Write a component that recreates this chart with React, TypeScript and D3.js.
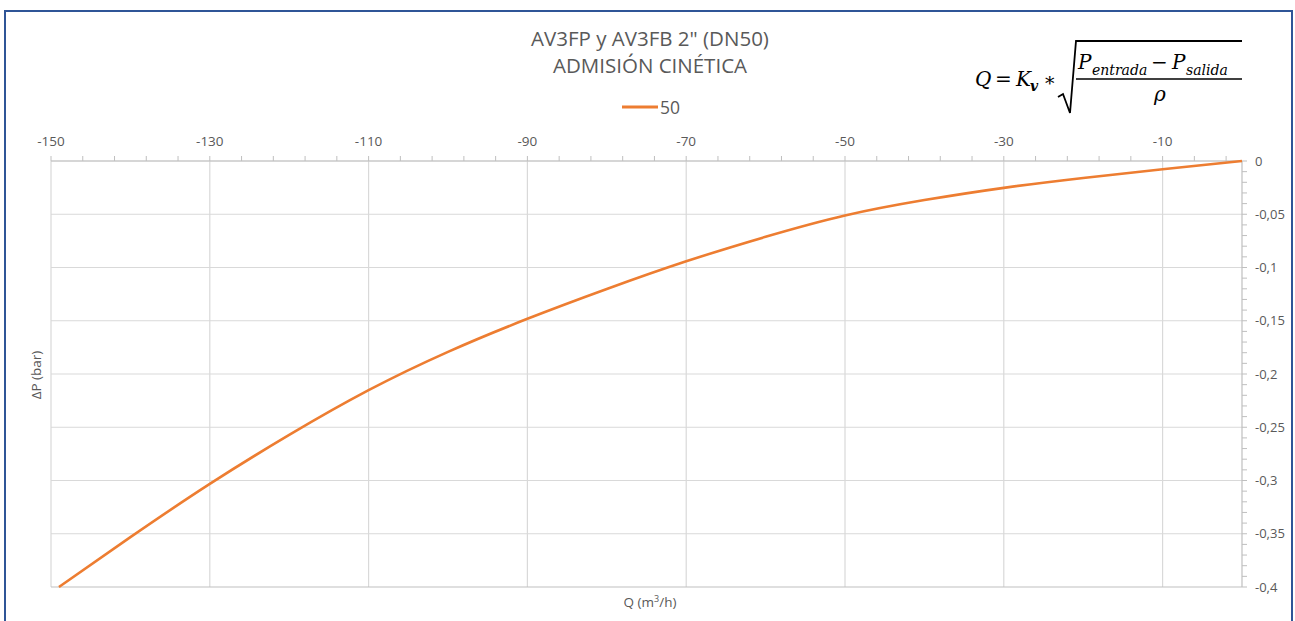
import * as d3 from "d3";

// Curve: Q (m3/h) vs pressure loss (bar)
const flowQ = [-149, -140, -130, -120, -110, -100, -90, -80, -70, -60, -50, -40, -30, -20, -10, 0];
const deltaP = [-0.4, -0.3532, -0.3032, -0.2572, -0.2152, -0.1792, -0.1482, -0.1202, -0.0942, -0.0712, -0.0512, -0.0367, -0.0252, -0.0159, -0.0077, 0];

const xTicks = [-150, -130, -110, -90, -70, -50, -30, -10];
const yTicks = [0, -0.05, -0.1, -0.15, -0.2, -0.25, -0.3, -0.35, -0.4];
const yTickLabels = ["0", "-0,05", "-0,1", "-0,15", "-0,2", "-0,25", "-0,3", "-0,35", "-0,4"];

const titleLines = ['AV3FP y AV3FB 2" (DN50)', "ADMISIÓN CINÉTICA"];
const seriesName = "50";

const W = 1295;
const H = 621;
const plot = { left: 51, right: 1242, top: 161, bottom: 587 };
const FONT = "'Open Sans', 'Noto Sans', sans-serif";
const TXT = "#595959";
const GRID = "#d9d9d9";
const AXIS = "#bfbfbf";
const ORANGE = "#ED7D31";

export default function App() {
  const x = d3.scaleLinear().domain([-150, 0]).range([plot.left, plot.right]);
  const y = d3.scaleLinear().domain([-0.4, 0]).range([plot.bottom, plot.top]);

  const pts = flowQ.map((q, i) => [q, deltaP[i]] as [number, number]);
  const line = d3
    .line<[number, number]>()
    .x((d) => x(d[0]))
    .y((d) => y(d[1]))
    .curve(d3.curveNatural);

  const minorX = d3.range(-150, 0.001, 4);
  const minorY = d3.range(0, 40.5, 1).map((k) => -k / 100);

  const fx = 975; // formula anchor
  return (
    <svg
      width={W}
      height={H}
      style={{ position: "absolute", left: 0, top: 0, background: "#fff" }}
    >
      <rect x={5} y={11} width={1287} height={625} fill="#fff" stroke="#2F5597" strokeWidth={2} />

      {/* gridlines */}
      {xTicks.map((t) => (
        <line key={"gx" + t} x1={x(t)} x2={x(t)} y1={plot.top} y2={plot.bottom} stroke={GRID} strokeWidth={1.2} />
      ))}
      {yTicks.map((t) => (
        <line key={"gy" + t} x1={plot.left} x2={plot.right} y1={y(t)} y2={y(t)} stroke={t === -0.4 ? AXIS : GRID} strokeWidth={1.2} />
      ))}

      {/* top axis */}
      <line x1={plot.left} x2={plot.right} y1={plot.top} y2={plot.top} stroke={AXIS} strokeWidth={1.2} />
      {minorX.map((t) => (
        <line key={"mx" + t} x1={x(t)} x2={x(t)} y1={plot.top} y2={plot.top - 5} stroke={AXIS} strokeWidth={1} />
      ))}
      {xTicks.map((t) => (
        <text key={"tx" + t} x={x(t)} y={146} textAnchor="middle" fontFamily={FONT} fontSize={13.5} fill={TXT}>
          {t}
        </text>
      ))}

      {/* right axis */}
      <line x1={plot.right} x2={plot.right} y1={plot.top} y2={plot.bottom} stroke={AXIS} strokeWidth={1.2} />
      {minorY.map((t) => (
        <line key={"my" + t} x1={plot.right} x2={plot.right + 5} y1={y(t)} y2={y(t)} stroke={AXIS} strokeWidth={1} />
      ))}
      {yTicks.map((t, i) => (
        <text key={"ty" + t} x={1255} y={y(t) + 4.5} fontFamily={FONT} fontSize={13} fill={TXT}>
          {yTickLabels[i]}
        </text>
      ))}

      {/* series */}
      <path d={line(pts) ?? ""} fill="none" stroke={ORANGE} strokeWidth={2.6} />

      {/* titles */}
      {titleLines.map((s, i) => (
        <text key={s} x={650} y={46 + i * 27} textAnchor="middle" fontFamily={FONT} fontSize={20.5} fill={TXT}>
          {s}
        </text>
      ))}
      <line x1={622} x2={658} y1={107} y2={107} stroke={ORANGE} strokeWidth={3} />
      <text x={660} y={114} fontFamily={FONT} fontSize={17.5} fill={TXT}>
        {seriesName}
      </text>

      <text transform="translate(41,375) rotate(-90)" textAnchor="middle" fontFamily={FONT} fontSize={13.5} fill={TXT}>
        ΔP (bar)
      </text>
      <text x={650} y={607} textAnchor="middle" fontFamily={FONT} fontSize={13.5} fill={TXT}>
        Q (m<tspan dy={-5} fontSize={9}>3</tspan>
        <tspan dy={5}>/h)</tspan>
      </text>

      {/* formula */}
      <g fontFamily="'DejaVu Serif', 'Liberation Serif', serif" fill="#000">
        <text x={fx} y={86} fontSize={20} fontStyle="italic">Q</text>
        <text x={fx + 20} y={86} fontSize={20}>=</text>
        <text x={fx + 41} y={86} fontSize={20} fontStyle="italic">K</text>
        <text x={fx + 55} y={91} fontSize={14} fontStyle="italic" fontWeight="bold">v</text>
        <text x={fx + 70} y={90} fontSize={19}>*</text>
        <path d="M1058,97 L1063,94 L1070,113 L1076,41 L1242,41" fill="none" stroke="#000" strokeWidth={1.8} />
        <text x={1078} y={69} fontSize={20} fontStyle="italic">P</text>
        <text x={1092} y={75} fontSize={14} fontStyle="italic">entrada</text>
        <text x={1151} y={69} fontSize={20}>−</text>
        <text x={1172} y={69} fontSize={20} fontStyle="italic">P</text>
        <text x={1186} y={75} fontSize={14} fontStyle="italic">salida</text>
        <line x1={1076} x2={1242} y1={79} y2={79} stroke="#000" strokeWidth={1.6} />
        <text x={1154} y={101} fontSize={20} fontStyle="italic">ρ</text>
      </g>
    </svg>
  );
}
